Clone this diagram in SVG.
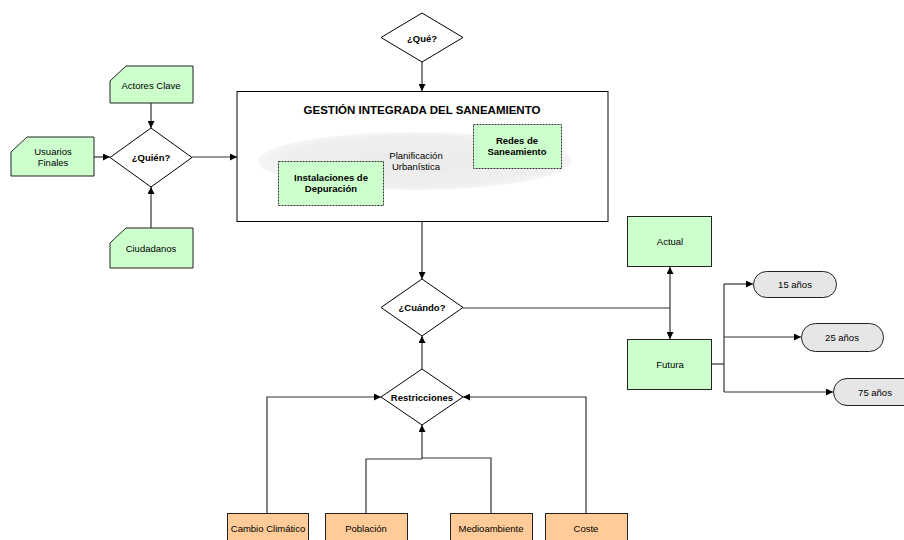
<svg xmlns="http://www.w3.org/2000/svg" width="904" height="540" viewBox="0 0 904 540">
  <style>
    text { font-family: "Liberation Sans", Arial, sans-serif; font-size: 9.5px; fill: #000; text-anchor: middle; dominant-baseline: central; }
    .b { font-weight: bold; }
    .title { font-weight: bold; font-size: 11.5px; }
    .card { fill: #ccffcc; stroke: #222; stroke-width: 1; }
    .box { fill: #ccffcc; stroke: #222; stroke-width: 1; }
    .dash { fill: #ccffcc; stroke: #333; stroke-width: 1; stroke-dasharray: 2 1; }
    .orange { fill: #ffcc99; stroke: #222; stroke-width: 1; }
    .pill { fill: #e6e6e6; stroke: #222; stroke-width: 1; }
    .dia { fill: #fff; stroke: #000; stroke-width: 1; }
    .main { fill: #fff; stroke: #000; stroke-width: 1; }
    .con { fill: none; stroke: #333; stroke-width: 1.2; }
    .arr { marker-end: url(#ah); }
  </style>
  <defs>
    <marker id="ah" viewBox="0 0 8 8" refX="8" refY="4" markerWidth="7" markerHeight="7" markerUnits="userSpaceOnUse" orient="auto-start-reverse">
      <path d="M0,0 L8,4 L0,8 z" fill="#000"/>
    </marker>
    <radialGradient id="haze" cx="0.5" cy="0.5" r="0.5">
      <stop offset="0" stop-color="#ebebeb"/>
      <stop offset="0.85" stop-color="#efefef"/>
      <stop offset="1" stop-color="#f6f6f6"/>
    </radialGradient>
  </defs>

  <rect width="904" height="540" fill="#fff"/>

  <!-- connectors -->
  <g id="connectors">
    <line class="con arr" x1="422" y1="62" x2="422" y2="91"/>
    <line class="con arr" x1="151" y1="103" x2="151" y2="128"/>
    <line class="con arr" x1="94" y1="157" x2="110" y2="157"/>
    <line class="con arr" x1="151" y1="228" x2="151" y2="187"/>
    <line class="con arr" x1="192" y1="157" x2="237" y2="157"/>
    <line class="con arr" x1="422" y1="222" x2="422" y2="279"/>
    <line class="con arr" x1="422" y1="369" x2="422" y2="336"/>
    <line class="con" x1="463" y1="308" x2="670" y2="308"/>
    <line class="con arr" x1="670" y1="308" x2="670" y2="267"/>
    <line class="con arr" x1="670" y1="308" x2="670" y2="339"/>
    <polyline class="con" points="712,364 724,364"/>
    <line class="con" x1="724" y1="284" x2="724" y2="392"/>
    <line class="con arr" x1="724" y1="284" x2="753" y2="284"/>
    <line class="con arr" x1="724" y1="337" x2="801" y2="337"/>
    <line class="con arr" x1="724" y1="392" x2="833" y2="392"/>
    <polyline class="con arr" points="267,513 267,397 381,397"/>
    <polyline class="con arr" points="586,513 586,397 463,397"/>
    <polyline class="con" points="366,513 366,459 422,459"/>
    <polyline class="con" points="491,513 491,458 422,458"/>
    <line class="con arr" x1="422" y1="459" x2="422" y2="425"/>
  </g>

  <!-- question nodes -->
  <g id="que">
    <polygon class="dia" points="422,13 463,37.5 422,62 381,37.5"/>
    <text class="b" x="422" y="38">¿Qué?</text>
  </g>
  <g id="quien">
    <polygon class="dia" points="151,128 192,157.5 151,187 110,157.5"/>
    <text class="b" x="151" y="157">¿Quién?</text>
  </g>
  <g id="cuando">
    <polygon class="dia" points="422,279 463,307.5 422,336 381,307.5"/>
    <text class="b" x="422" y="307">¿Cuándo?</text>
  </g>
  <g id="restricciones">
    <polygon class="dia" points="422,369 463,397 422,425 381,397"/>
    <text class="b" x="422" y="397">Restricciones</text>
  </g>

  <!-- actors -->
  <g id="actores-clave">
    <polygon class="card" points="126,66 193,66 193,103 110,103 110,81"/>
    <text x="151" y="85">Actores Clave</text>
  </g>
  <g id="usuarios-finales">
    <polygon class="card" points="27,137 94,137 94,176 11,176 11,152"/>
    <text x="53" y="151">Usuarios</text>
    <text x="53" y="162">Finales</text>
  </g>
  <g id="ciudadanos">
    <polygon class="card" points="126,228 193,228 193,268 110,268 110,243"/>
    <text x="151" y="248">Ciudadanos</text>
  </g>

  <!-- integrated management -->
  <g id="gestion">
    <rect class="main" x="237" y="91.5" width="371" height="130"/>
    <text class="title" x="422" y="110">GESTIÓN INTEGRADA DEL SANEAMIENTO</text>
    <ellipse cx="415" cy="161" rx="157" ry="29" fill="url(#haze)"/>
    <text x="416" y="155">Planificación</text>
    <text x="416" y="166">Urbanística</text>
  </g>
  <g id="instalaciones">
    <rect class="dash" x="278.5" y="161.5" width="105" height="44"/>
    <text class="b" x="331" y="177">Instalaciones de</text>
    <text class="b" x="331" y="188">Depuración</text>
  </g>
  <g id="redes">
    <rect class="dash" x="473.5" y="124.5" width="88" height="44"/>
    <text class="b" x="517" y="140">Redes de</text>
    <text class="b" x="517" y="151">Saneamiento</text>
  </g>

  <!-- time horizon -->
  <g id="actual">
    <rect class="box" x="627.5" y="216.5" width="84" height="50"/>
    <text x="670" y="241">Actual</text>
  </g>
  <g id="futura">
    <rect class="box" x="627.5" y="339.5" width="84" height="50"/>
    <text x="670" y="364">Futura</text>
  </g>
  <g id="anos-15">
    <rect class="pill" x="753.5" y="271.5" width="83" height="26" rx="13"/>
    <text x="795" y="284">15 años</text>
  </g>
  <g id="anos-25">
    <rect class="pill" x="801.5" y="323.5" width="82" height="28" rx="14"/>
    <text x="842" y="337">25 años</text>
  </g>
  <g id="anos-75">
    <rect class="pill" x="833.5" y="378.5" width="90" height="27" rx="13.5"/>
    <text x="875" y="392">75 años</text>
  </g>

  <!-- constraints -->
  <g id="cambio-climatico">
    <rect class="orange" x="227.5" y="513.5" width="81" height="35"/>
    <text x="268" y="528">Cambio Climático</text>
  </g>
  <g id="poblacion">
    <rect class="orange" x="325.5" y="513.5" width="82" height="35"/>
    <text x="366" y="528">Población</text>
  </g>
  <g id="medioambiente">
    <rect class="orange" x="450.5" y="513.5" width="82" height="35"/>
    <text x="491" y="528">Medioambiente</text>
  </g>
  <g id="coste">
    <rect class="orange" x="545.5" y="513.5" width="82" height="35"/>
    <text x="586" y="528">Coste</text>
  </g>
</svg>
